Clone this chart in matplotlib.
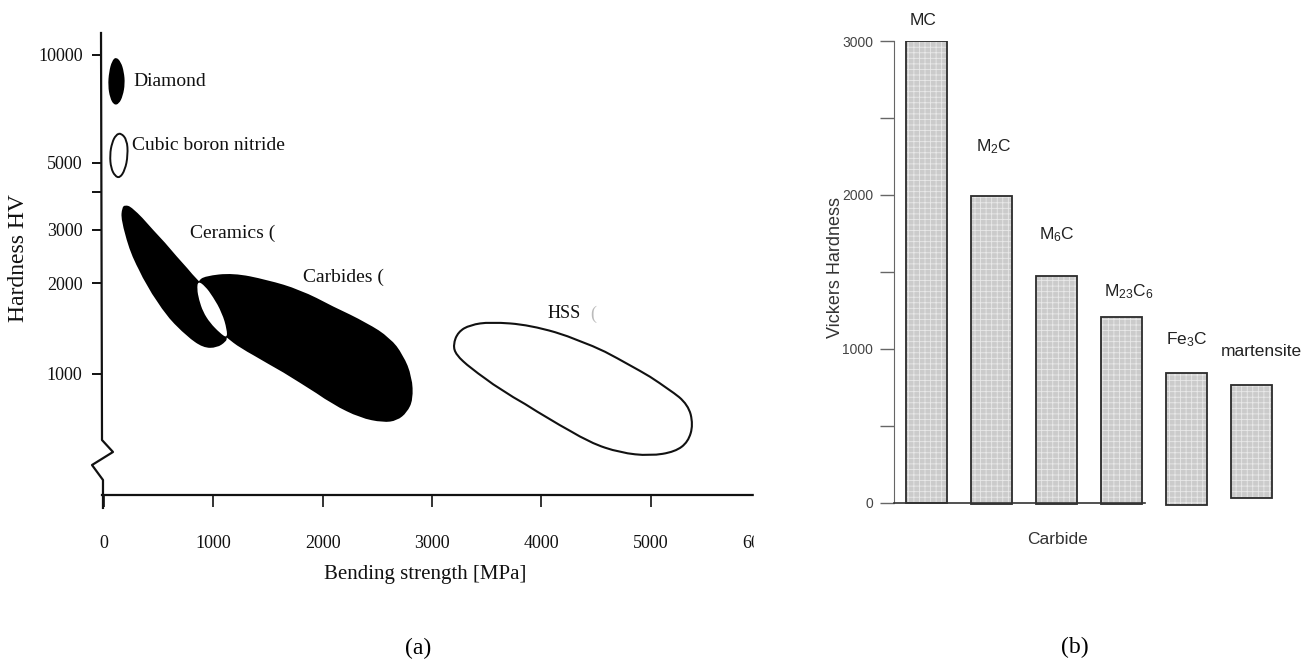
"""
Hardness charts: (a) hardness vs. bending strength of tool materials,
(b) Vickers hardness of carbides in steel
"""

import numpy as np
import matplotlib
matplotlib.use("Agg")
import matplotlib.pyplot as plt
from matplotlib.patches import Rectangle, PathPatch
from matplotlib.path import Path
from matplotlib.ticker import FixedLocator, NullLocator

# ---------- (a) Hardness HV vs. bending strength [MPa] ----------
strength_ticks = [0, 1000, 2000, 3000, 4000, 5000, 6000]
hardness_ticks = [1000, 2000, 3000, 4000, 5000, 10000]
hardness_labels = ["1000", "2000", "3000", "", "5000", "10000"]

# outlines of the material fields (strength, hardness)
diamond_x = [110, 155, 183, 192, 173, 137, 91, 55, 37, 46, 73]
diamond_y = [9870, 9560, 8965, 8300, 7685, 7300, 7250, 7590, 8195, 8965, 9620]

cbn_x = [155, 210, 219, 192, 146, 100, 64, 54, 73, 109]
cbn_y = [6060, 5795, 5265, 4740, 4460, 4525, 4810, 5265, 5685, 5985]

ceramics_x = [192, 256, 448, 668, 860, 924, 997, 1080, 1125, 1125, 1116, 1034,
              906, 759, 576, 393, 238, 156, 165]
ceramics_y = [3630, 3570, 3000, 2440, 2030, 1955, 1800, 1590, 1400, 1315, 1280,
              1220, 1220, 1330, 1545, 1940, 2515, 3240, 3550]

carbides_x = [860, 924, 1180, 1491, 1793, 2095, 2406, 2617, 2736, 2818, 2827,
              2772, 2681, 2553, 2342, 2095, 1793, 1491, 1244, 1125, 970, 906,
              869, 851]
carbides_y = [2030, 2110, 2160, 2050, 1900, 1670, 1475, 1315, 1155, 975, 820,
              745, 700, 690, 715, 790, 935, 1085, 1220, 1315, 1475, 1605, 1760,
              1910]

# overlap of ceramics and carbides (left white)
overlap_x = [860, 924, 997, 1080, 1125, 1125, 1061, 970, 906, 869, 851]
overlap_y = [2030, 1955, 1800, 1590, 1400, 1315, 1365, 1475, 1605, 1760, 1910]

hss_x = [3193, 3239, 3349, 3532, 3897, 4355, 4812, 5178, 5343, 5389, 5343,
         5224, 4995, 4721, 4446, 4080, 3623, 3349, 3220]
hss_y = [1247, 1378, 1453, 1486, 1453, 1296, 1071, 885, 790, 678, 595, 552,
         535, 548, 591, 704, 885, 1047, 1156]

# ---------- (b) Vickers hardness of carbides ----------
carbides = ["MC", "M$_2$C", "M$_6$C", "M$_{23}$C$_6$", "Fe$_3$C", "martensite"]
vickers = [3000, 1990, 1475, 1205, 842, 766]
bar_base = [0, -8, -8, -6, -15, 30]
label_hv = [3136, 2312, 1740, 1370, 1058, 980]
label_dx = [-0.05, 0.03, 0.0, 0.11, 0.0, 0.15]

W, H = 1313, 663
plt.rcParams["mathtext.default"] = "regular"
plt.rcParams["hatch.linewidth"] = 0.6


def fx(p):
    return p / W


def fy(p):
    return 1 - p / H


# y scale of (a): log, with the decade above 5000 drawn a bit taller
L5 = np.log10(5000)
K = 359 / 302


def hv_fwd(y):
    ly = np.log10(np.maximum(y, 1e-6))
    return np.where(ly <= L5, ly, L5 + (ly - L5) * K)


def hv_inv(v):
    v = np.asarray(v, dtype=float)
    return np.where(v <= L5, 10 ** v, 10 ** (L5 + (v - L5) / K))


def blob(ax, xs, ys, **kw):
    """Closed outline drawn as a smooth curve through the read points."""
    p = np.column_stack([xs, ys]).astype(float)
    mid = (p + np.roll(p, -1, axis=0)) / 2
    verts = [mid[-1]]
    codes = [Path.MOVETO]
    for i in range(len(p)):
        verts += [p[i], mid[i]]
        codes += [Path.CURVE3, Path.CURVE3]
    patch = PathPatch(Path(verts, codes), **kw)
    ax.add_patch(patch)
    return patch


fig = plt.figure(figsize=(W / 100, H / 100), dpi=100)
ink = "#111111"
serif = "Liberation Serif"

# ----- panel (a) -----
ax1 = fig.add_axes([fx(102), fy(495), (760 - 102) / W, (495 - 33) / H])
ax1.set_yscale("function", functions=(hv_fwd, hv_inv))
ax1.set_xlim(-18, 6000)
ax1.set_ylim(397, 11510)

blob(ax1, diamond_x, diamond_y, facecolor="black", lw=0)
blob(ax1, cbn_x, cbn_y, facecolor="white", edgecolor=ink, lw=1.4)
blob(ax1, ceramics_x, ceramics_y, facecolor="black", lw=0)
blob(ax1, carbides_x, carbides_y, facecolor="black", lw=0)
blob(ax1, overlap_x, overlap_y, facecolor="white", lw=0)
blob(ax1, hss_x, hss_y, facecolor="white", edgecolor=ink, lw=1.5)

for s in ["top", "right", "left"]:
    ax1.spines[s].set_visible(False)
ax1.spines["bottom"].set_color(ink)
ax1.spines["bottom"].set_linewidth(1.6)

# y axis with the break
ax1.plot([-0.0015, 0, 0.0167, -0.0152, 0.0015, 0.0015],
         [1.0, 0.119, 0.0931, 0.0649, 0.0325, -0.028],
         transform=ax1.transAxes, clip_on=False, color=ink, lw=1.6)

ax1.xaxis.set_major_locator(FixedLocator(strength_ticks))
ax1.set_xticklabels([str(t) for t in strength_ticks])
ax1.yaxis.set_major_locator(FixedLocator(hardness_ticks))
ax1.yaxis.set_minor_locator(NullLocator())
ax1.set_yticklabels(hardness_labels)
ax1.tick_params(axis="x", direction="out", length=8.5, width=1.2, pad=20,
                colors=ink, labelsize=13)
ax1.tick_params(axis="y", direction="out", length=7, width=1.4, pad=7,
                colors=ink, labelsize=13)
for lab in ax1.get_xticklabels() + ax1.get_yticklabels():
    lab.set_fontfamily(serif)

txt = dict(family=serif, color=ink, fontsize=14, va="center", ha="left")
fig.text(fx(133), fy(82), "Diamond", **txt)
fig.text(fx(132), fy(145), "Cubic boron nitride", **txt)
fig.text(fx(190), fy(233), "Ceramics (", **txt)
fig.text(fx(303), fy(277), "Carbides (", **txt)
fig.text(fx(548), fy(314), "HSS", **dict(txt, fontsize=13))
fig.text(fx(590), fy(314), "(", **dict(txt, fontsize=13, color="#bbbbbb"))

fig.text(fx(19), fy(258), "Hardness HV", family=serif, color=ink, fontsize=17,
         rotation=90, ha="center", va="center")
fig.text(fx(425), fy(575), "Bending strength [MPa]", family=serif, color=ink,
         fontsize=15, ha="center", va="center")
fig.text(fx(418), fy(648), "(a)", family=serif, color="black", fontsize=17,
         ha="center", va="center")

# the scanned figure is cut off at the right
fig.add_artist(Rectangle((fx(754), fy(570)), (830 - 754) / W, 100 / H,
                         transform=fig.transFigure, color="white", zorder=5))

# ----- panel (b) -----
sans = "Liberation Sans"
ax2 = fig.add_axes([fx(894), fy(512), 390.5 / W, (512 - 41) / H])
pos = np.arange(len(carbides))
heights = np.subtract(vickers, bar_base)

ax2.bar(pos, heights, bottom=bar_base, width=0.63, facecolor="#cbcbcb",
        edgecolor="#e9e9e9", hatch="+++", linewidth=0)
ax2.bar(pos, heights, bottom=bar_base, width=0.63, facecolor="none",
        edgecolor="#2b2b2b", linewidth=1.3)

for i, name in enumerate(carbides):
    ax2.text(pos[i] + label_dx[i], label_hv[i], name, family=sans,
             fontsize=12.5, color="#222222", ha="center", va="center")

ax2.set_xlim(-0.5, 5.5)
ax2.set_ylim(-60, 3000)
for s in ["top", "right"]:
    ax2.spines[s].set_visible(False)
ax2.spines["left"].set_bounds(0, 3000)
ax2.spines["left"].set_color("#666666")
ax2.spines["bottom"].set_position(("data", 0))
ax2.spines["bottom"].set_bounds(-0.5, 3.36)
ax2.spines["bottom"].set_color("#333333")
ax2.spines["bottom"].set_linewidth(1.2)

ax2.set_xticks([])
ax2.set_yticks([0, 1000, 2000, 3000])
ax2.set_yticks([500, 1500, 2500], minor=True)
ax2.tick_params(axis="y", which="both", direction="out", length=10, width=1,
                color="#666666", labelcolor="#444444", labelsize=10, pad=5)
for lab in ax2.get_yticklabels():
    lab.set_fontfamily(sans)

fig.text(fx(836), fy(268), "Vickers Hardness", family=sans, fontsize=13,
         color="#333333", rotation=90, ha="center", va="center")
fig.text(fx(1058), fy(540), "Carbide", family=sans, fontsize=12.5,
         color="#333333", ha="center", va="center")
fig.text(fx(1075), fy(647), "(b)", family=serif, color="black", fontsize=17,
         ha="center", va="center")

fig.savefig("out.png", dpi=100, facecolor="white")
